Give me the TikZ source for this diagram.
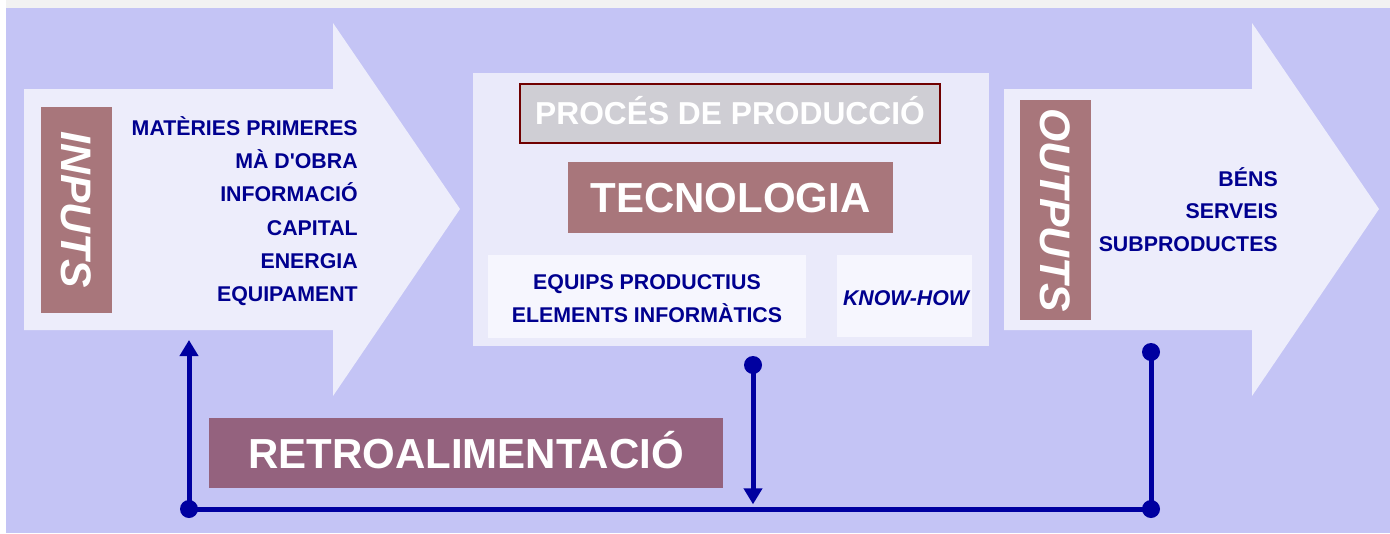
\documentclass[tikz,border=0pt]{standalone}
\usepackage{fontspec}
\setmainfont{Liberation Sans}
\usetikzlibrary{arrows.meta}
\definecolor{bg}{HTML}{C4C4F5}
\definecolor{pale}{HTML}{EDEDFB}
\definecolor{midbox}{HTML}{EAEAFA}
\definecolor{whitebox}{HTML}{F6F6FE}
\definecolor{mauve}{HTML}{A8767B}
\definecolor{plum}{HTML}{94627E}
\definecolor{navy}{HTML}{00008F}
\definecolor{lineblue}{HTML}{0000A0}
\definecolor{greybox}{HTML}{CFCED4}
\definecolor{darkred}{HTML}{700000}
\begin{document}
\begin{tikzpicture}[x=0.75pt,y=-0.75pt,
  tag/.style={fill=mauve, text=white, rotate=-90, inner sep=0pt,
    font=\bfseries\itshape\fontsize{32}{32}\selectfont,
    text height=22.9pt, text depth=0pt},
  item/.style={text=navy, inner sep=0pt, font=\bfseries\fontsize{16}{16}\selectfont},
  bigbox/.style={text=white, inner sep=0pt,
    font=\bfseries\fontsize{31.5}{31.5}\selectfont,
    text height=22.5pt, text depth=0pt},
  fb/.style={draw=lineblue, line width=3.75pt},
  fbtip/.style={-{Triangle[width=13.5pt,length=12pt]}},
  dot/.style={fill=lineblue}
]
\useasboundingbox (0,0) rectangle (1390,533);
% background
\fill[white] (0,0) rectangle (1390,533);
\fill[gray!10] (6,0) rectangle (1390,8);
\fill[bg] (6,8) rectangle (1390,533);

% input arrow
\fill[pale] (24,89) -- (333,89) -- (333,23) -- (460,209) -- (333,396) -- (333,330) -- (24,330) -- cycle;
% output arrow
\fill[pale] (1004,89) -- (1252,89) -- (1252,23) -- (1379,209) -- (1252,396) -- (1252,330) -- (1004,330) -- cycle;
% middle panel
\node[fill=midbox, inner sep=0pt, minimum width=387pt, minimum height=204.75pt] (panel) at (731,209.5) {};

% INPUTS
\node[tag, minimum width=154.5pt, minimum height=53.25pt] (inputs) at (76.5,210) {INPUTS};
\node[item, anchor=base east] (in1) at (358,135.5) {MATÈRIES PRIMERES};
\node[item, anchor=base east] (in2) at (358,168.5) {MÀ D\textquotesingle OBRA};
\node[item, anchor=base east] (in3) at (358,201) {INFORMACIÓ};
\node[item, anchor=base east] (in4) at (358,235) {CAPITAL};
\node[item, anchor=base east] (in5) at (358,268) {ENERGIA};
\node[item, anchor=base east] (in6) at (358,301) {EQUIPAMENT};

% OUTPUTS
\node[tag, minimum width=165pt, minimum height=53.25pt] (outputs) at (1055.5,210) {OUTPUTS};
\node[item, anchor=base east] (out1) at (1278,186) {BÉNS};
\node[item, anchor=base east] (out2) at (1278,218.5) {SERVEIS};
\node[item, anchor=base east] (out3) at (1278,251) {SUBPRODUCTES};

% middle
\node[fill=greybox, draw=darkred, line width=1.5pt, text=white, inner sep=0pt,
  font=\bfseries\fontsize{23.8}{23.8}\selectfont, text height=17pt, text depth=0pt,
  minimum width=315pt, minimum height=44.5pt] (proces) at (730,113.5) {PROCÉS DE PRODUCCIÓ};
\node[bigbox, fill=mauve, minimum width=243.75pt, minimum height=53.25pt] (tecno) at (730.5,197.5) {TECNOLOGIA};
\node[fill=whitebox, inner sep=0pt, minimum width=238.5pt, minimum height=62.25pt] (equips) at (647,296.5) {};
\node[item, anchor=base] (eq1) at (647,289) {EQUIPS PRODUCTIUS};
\node[item, anchor=base] (eq2) at (647,322) {ELEMENTS INFORMÀTICS};
\node[fill=whitebox, inner sep=0pt, minimum width=101.25pt, minimum height=61.5pt] (knowbox) at (904.5,296) {};
\node[item, anchor=base, font=\bfseries\itshape\fontsize{16}{16}\selectfont] (know) at (906,305) {KNOW-HOW};

% feedback
\node[bigbox, fill=plum, minimum width=385.5pt, minimum height=52.5pt] (retro) at (466,453) {RETROALIMENTACIÓ};

\coordinate (fbL) at (189,509);
\coordinate (fbM) at (753,509);
\coordinate (fbR) at (1151,509);
\coordinate (dotM) at (753,365);
\coordinate (dotR) at (1151,352);
\coordinate (inTip) at (189,340);

\draw[fb] (dotR) -- (fbR) -- (fbL);
\draw[fb, fbtip] (fbL) -- (inTip);
\draw[fb, fbtip, shorten >=3.5pt] (dotM) -- (fbM);
\fill[dot] (dotM) circle (9);
\fill[dot] (dotR) circle (9);
\fill[dot] (fbR) circle (9);
\fill[dot] (fbL) circle (9);
\end{tikzpicture}
\end{document}
